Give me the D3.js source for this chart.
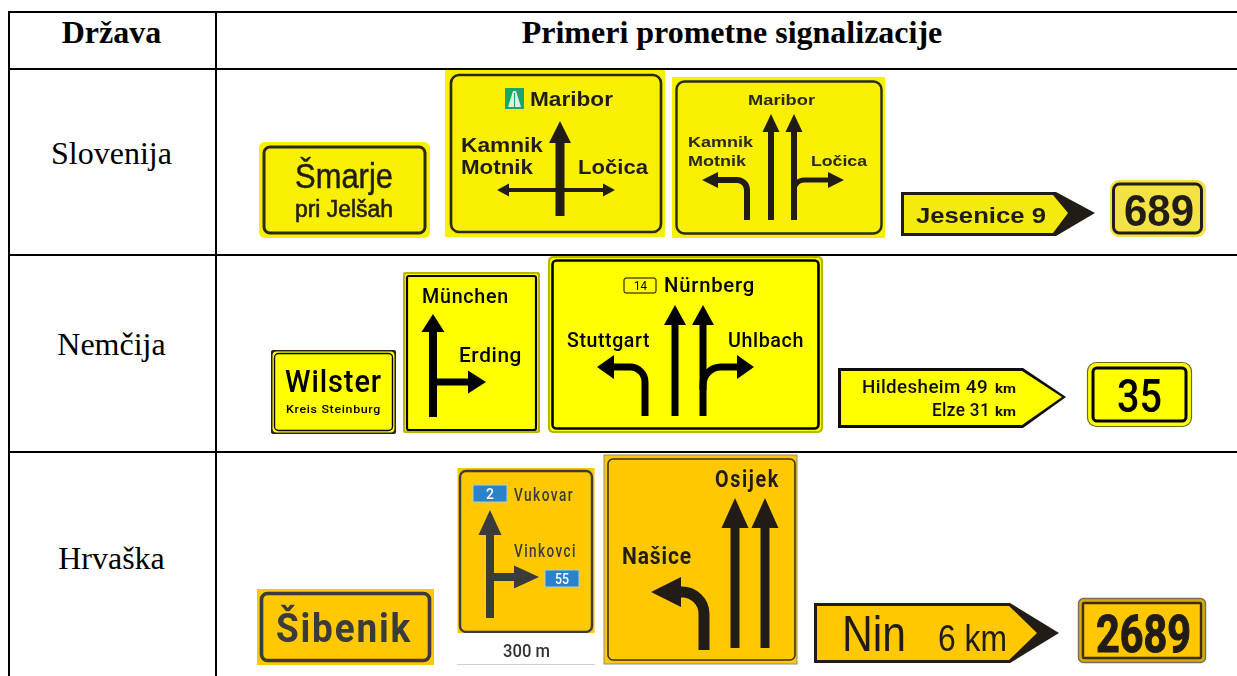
<!DOCTYPE html>
<html>
<head>
<meta charset="utf-8">
<script src="https://cdn.jsdelivr.net/npm/d3@7/dist/d3.min.js"></script>
<style>
  html, body { margin: 0; padding: 0; background: #fff; overflow: hidden; }
  svg { display: block; }
</style>
</head>
<body>
<div id="chart"></div>
<script>
  'use strict';

  // Table content
  var headers = [ 'Država', 'Primeri prometne signalizacije' ],
      rowNames = [ 'Slovenija', 'Nemčija', 'Hrvaška' ];

  // Sign texts, per row
  var slTexts = [ 'Šmarje', 'pri Jelšah', 'Maribor', 'Kamnik', 'Motnik', 'Ločica', 'Jesenice 9', '689' ],
      deTexts = [ 'Wilster', 'Kreis Steinburg', 'München', 'Erding', '14', 'Nürnberg', 'Stuttgart', 'Uhlbach', 'Hildesheim 49', 'km', 'Elze 31', '35' ],
      hrTexts = [ 'Šibenik', '2', 'Vukovar', 'Vinkovci', '55', '300 m', 'Osijek', 'Našice', 'Nin', '6 km', '2689' ];

  var width = 1237,
      height = 676,
      serif = '"Liberation Serif", serif',
      sans = '"Liberation Sans", sans-serif',
      din = 'Roboto, sans-serif',
      slYellow = '#f8f000',
      deYellow = '#ffff00',
      hrYellow = '#ffc800',
      ink = '#231f14',
      slate = '#3a3a3a';

  var rowY = d3.scaleOrdinal( rowNames, [ 154, 345, 559 ] );

  var svg = d3.select( '#chart' )
    .append( 'svg' )
    .attr( 'width', width )
    .attr( 'height', height );

  var defs = svg.append( 'defs' );

  defs.append( 'filter' )
    .attr( 'id', 'soft' )
    .append( 'feGaussianBlur' )
    .attr( 'stdDeviation', 0.5 );

  // Grid of the table
  var grid = svg.append( 'g' )
    .attr( 'stroke', '#000' )
    .attr( 'stroke-width', 2 );

  [ 12, 69, 255, 452 ].forEach(function( y ) {
    grid.append( 'line' )
      .attr( 'x1', 8 ).attr( 'x2', width )
      .attr( 'y1', y ).attr( 'y2', y );
  });

  [ 9, 216 ].forEach(function( x ) {
    grid.append( 'line' )
      .attr( 'x1', x ).attr( 'x2', x )
      .attr( 'y1', 11 ).attr( 'y2', height );
  });

  svg.selectAll( '.head' )
    .data( headers )
    .enter().append( 'text' )
    .attr( 'class', 'head' )
    .attr( 'x', function( d, i ) { return i ? 732 : 111.5; })
    .attr( 'y', 43 )
    .attr( 'text-anchor', 'middle' )
    .attr( 'font-family', serif )
    .attr( 'font-weight', 700 )
    .attr( 'font-size', 32 )
    .attr( 'fill', '#000' )
    .text(function( d ) { return d; });

  svg.selectAll( '.row' )
    .data( rowNames )
    .enter().append( 'text' )
    .attr( 'class', 'row' )
    .attr( 'x', 111.5 )
    .attr( 'y', function( d ) { return rowY( d ) + 10; })
    .attr( 'text-anchor', 'middle' )
    .attr( 'font-family', serif )
    .attr( 'font-size', 32 )
    .attr( 'fill', '#000' )
    .text(function( d ) { return d; });

  var signs = svg.append( 'g' )
    .attr( 'filter', 'url(#soft)' );

  // Helpers
  function box( x, y, w, h, fill, r, stroke, sw ) {
    return signs.append( 'rect' )
      .attr( 'x', x ).attr( 'y', y )
      .attr( 'width', w ).attr( 'height', h )
      .attr( 'rx', r ).attr( 'ry', r )
      .attr( 'fill', fill )
      .attr( 'stroke', stroke || 'none' )
      .attr( 'stroke-width', sw || 0 );
  }

  function label( text, x1, x2, y, font, size, weight, color, tracking ) {
    return signs.append( 'text' )
      .attr( 'x', x1 )
      .attr( 'y', y )
      .attr( 'textLength', x2 - x1 )
      .attr( 'lengthAdjust', 'spacingAndGlyphs' )
      .attr( 'letter-spacing', tracking || 0 )
      .attr( 'font-family', font )
      .attr( 'font-size', size )
      .attr( 'font-weight', weight )
      .attr( 'fill', color )
      .text( text );
  }

  var polyLine = d3.line().curve( d3.curveLinearClosed );

  function shape( points, fill ) {
    return signs.append( 'path' )
      .attr( 'd', polyLine( points ) )
      .attr( 'fill', fill );
  }

  // pts: shaft points, last one is the tip of the arrow. r rounds the corner
  function arrow( pts, sw, headLen, headW, color, r ) {
    var n = pts.length,
        tip = pts[ n - 1 ],
        prev = pts[ n - 2 ],
        len = Math.hypot( tip[0] - prev[0], tip[1] - prev[1] ),
        ux = ( tip[0] - prev[0] ) / len,
        uy = ( tip[1] - prev[1] ) / len,
        base = [ tip[0] - ux * headLen, tip[1] - uy * headLen ],
        p = d3.path();

    p.moveTo( pts[0][0], pts[0][1] );
    if ( n === 3 ) {
      p.arcTo( pts[1][0], pts[1][1], base[0], base[1], r || 0 );
    }
    p.lineTo( base[0], base[1] );

    signs.append( 'path' )
      .attr( 'd', p.toString() )
      .attr( 'fill', 'none' )
      .attr( 'stroke', color )
      .attr( 'stroke-width', sw );

    shape([
      tip,
      [ base[0] - uy * headW / 2, base[1] + ux * headW / 2 ],
      [ base[0] + uy * headW / 2, base[1] - ux * headW / 2 ]
    ], color );
  }

  // Slovenija
  box( 259, 142, 171, 96, slYellow, 6 );
  box( 264, 147, 161, 86, 'none', 6, '#2b2a14', 3 );
  label( slTexts[0], 295, 393, 188, sans, 35, 400, ink ).attr( 'stroke', ink ).attr( 'stroke-width', 0.5 );
  label( slTexts[1], 295, 393, 217, sans, 23, 400, ink ).attr( 'stroke', ink ).attr( 'stroke-width', 0.6 );

  box( 445, 70, 220, 167, slYellow, 0 );
  box( 451, 75, 210, 157, 'none', 8, '#2b2a14', 2.6 );
  box( 505, 88, 19, 21, '#1fa56b', 0 );
  shape( [ [ 513, 91 ], [ 516, 91 ], [ 521, 107 ], [ 508, 107 ] ], '#d8efe2' );
  shape( [ [ 514, 93 ], [ 515, 93 ], [ 515, 107 ], [ 514, 107 ] ], '#1fa56b' );
  label( slTexts[2], 530, 613, 105.5, sans, 21, 700, ink );
  arrow( [ [ 560, 216 ], [ 560, 121 ] ], 9, 22, 22, ink );
  arrow( [ [ 556, 190 ], [ 497, 190 ] ], 4, 12, 13, ink );
  arrow( [ [ 564, 190 ], [ 615, 190 ] ], 4, 12, 13, ink );
  label( slTexts[3], 461, 543, 151.5, sans, 21, 700, ink );
  label( slTexts[4], 461, 533, 174, sans, 21, 700, ink );
  label( slTexts[5], 578, 648, 174, sans, 21, 700, ink );

  box( 672, 77, 213, 161, slYellow, 0 );
  box( 676.5, 81.5, 205, 152, 'none', 8, '#2b2a14', 2.4 );
  label( slTexts[2], 748, 815, 105, sans, 15, 700, '#2b2a14' );
  label( slTexts[3], 688, 753, 147, sans, 15, 700, '#2b2a14' );
  label( slTexts[4], 688, 746, 166, sans, 15, 700, '#2b2a14' );
  label( slTexts[5], 811, 867, 166, sans, 15, 700, '#2b2a14' );
  arrow( [ [ 771, 220 ], [ 771, 114 ] ], 6, 18, 17, ink );
  arrow( [ [ 794, 220 ], [ 794, 114 ] ], 6, 18, 17, ink );
  arrow( [ [ 747, 220 ], [ 747, 180 ], [ 702, 180 ] ], 6, 16, 16, ink, 10 );
  arrow( [ [ 794, 204 ], [ 794, 180 ], [ 844, 180 ] ], 5, 16, 16, ink, 10 );

  shape( [ [ 901, 192 ], [ 1056, 192 ], [ 1095, 213 ], [ 1056, 236 ], [ 901, 236 ] ], ink );
  shape( [ [ 904, 195 ], [ 1053, 195 ], [ 1068, 213 ], [ 1053, 233 ], [ 904, 233 ] ], '#f4ea10' );
  label( slTexts[6], 916, 1046, 223, sans, 22, 700, ink );

  box( 1110, 180, 96, 57, '#f2e244', 9 );
  box( 1113.5, 184, 88, 49, 'none', 6, ink, 3 );
  label( slTexts[7], 1124, 1194, 226, sans, 45, 700, ink );

  // Nemčija
  box( 271, 350, 125, 84, '#222', 2 );
  box( 272.5, 351.5, 122, 81, deYellow, 4 );
  box( 274.5, 353.5, 118, 77, 'none', 4, '#000', 1.4 );
  label( deTexts[0], 285, 382, 392, din, 32, 500, '#000', 1 );
  label( deTexts[1], 286, 381, 413, din, 11, 500, '#000', 0.6 );

  box( 403, 272, 137, 161, '#b8b400', 2 );
  box( 405, 274, 133, 157, deYellow, 2 );
  box( 407, 276, 129, 154, 'none', 2, '#000', 2.2 );
  label( deTexts[2], 422, 509, 303, din, 21, 500, '#000', 0.8 );
  label( deTexts[3], 459, 522, 362, din, 21, 500, '#000', 0.6 );
  arrow( [ [ 433, 417 ], [ 433, 314 ] ], 8, 18, 23, '#000' );
  arrow( [ [ 433, 382 ], [ 486, 382 ] ], 7, 18, 23, '#000' );

  box( 548, 256, 275, 177, '#b8b400', 5 );
  box( 550, 258, 271, 173, deYellow, 4 );
  box( 552.5, 260.5, 266, 168, 'none', 4, '#000', 2.6 );
  box( 624, 278, 32, 15, 'none', 2, '#000', 1 );
  label( deTexts[4], 634, 647, 290, din, 12, 400, '#000' );
  label( deTexts[5], 664, 755, 292, din, 21, 500, '#000', 0.8 );
  label( deTexts[6], 567, 650, 347, din, 20, 500, '#000', 0.6 );
  label( deTexts[7], 728, 804, 347, din, 20, 500, '#000', 0.6 );
  arrow( [ [ 675, 416 ], [ 675, 305 ] ], 7, 20, 22, '#000' );
  arrow( [ [ 703, 416 ], [ 703, 305 ] ], 7, 20, 22, '#000' );
  arrow( [ [ 645, 416 ], [ 645, 367 ], [ 597, 367 ] ], 7, 17, 24, '#000', 15 );
  arrow( [ [ 703, 390 ], [ 703, 367 ], [ 754, 367 ] ], 7, 17, 24, '#000', 18 );

  shape( [ [ 838, 368 ], [ 1023, 368 ], [ 1066, 397 ], [ 1023, 428 ], [ 838, 428 ] ], '#111' );
  shape( [ [ 841, 371 ], [ 1022, 371 ], [ 1062, 397 ], [ 1022, 425 ], [ 841, 425 ] ], deYellow );
  label( deTexts[8], 862, 988, 393, din, 19, 500, '#111', 0.4 );
  label( deTexts[9], 995, 1016, 393, din, 12, 700, '#111' );
  label( deTexts[10], 932, 990, 416, din, 19, 500, '#111', 0.4 );
  label( deTexts[9], 995, 1016, 416, din, 12, 700, '#111' );

  box( 1087.5, 362.5, 104, 64, deYellow, 9, '#6b6a20', 1.2 );
  box( 1093, 368, 93, 53, 'none', 4, '#000', 3 );
  label( deTexts[11], 1117, 1162, 412, din, 46, 500, '#000' );

  // Hrvaška
  box( 257, 589, 177, 76, hrYellow, 0 );
  box( 261.5, 593.5, 168, 67, 'none', 6, slate, 3.6 );
  label( hrTexts[0], 276, 412, 642, din, 41, 700, slate, 2 );

  box( 457.5, 468, 137, 165, hrYellow, 0 );
  box( 460, 471, 132, 161, 'none', 6, slate, 2.4 );
  box( 473, 485, 34, 17, '#2b82c9', 1, '#a8d0e8', 1 );
  label( hrTexts[1], 486, 494, 499, din, 14, 500, '#fff' );
  label( hrTexts[2], 514, 574, 500.5, din, 19, 500, slate, 2 );
  label( hrTexts[3], 514, 577, 557, din, 19, 500, slate, 2 );
  box( 545, 570, 34, 17, '#2b82c9', 1, '#a8d0e8', 1 );
  label( hrTexts[4], 555, 569, 584, din, 14, 500, '#fff' );
  arrow( [ [ 490, 618 ], [ 490, 510 ] ], 8, 25, 23, slate );
  arrow( [ [ 490, 577 ], [ 539, 577 ] ], 8, 25, 23, slate );
  box( 457.5, 633, 137, 31.5, '#fff', 0 );
  signs.append( 'line' )
    .attr( 'x1', 457 ).attr( 'x2', 595 )
    .attr( 'y1', 664.5 ).attr( 'y2', 664.5 )
    .attr( 'stroke', '#cfcfcf' );
  label( hrTexts[5], 503, 550, 657, din, 18, 500, '#333' );

  box( 604, 455, 193, 209, hrYellow, 0, '#8d8d80', 1 );
  box( 608, 459, 187, 201, 'none', 5, '#3f3210', 1.6 );
  label( hrTexts[6], 715, 780, 487, din, 24, 700, ink, 2 );
  label( hrTexts[7], 622, 692, 564, din, 24, 700, ink, 1 );
  arrow( [ [ 735, 648 ], [ 735, 498 ] ], 9, 30, 27, ink );
  arrow( [ [ 765, 648 ], [ 765, 498 ] ], 9, 30, 27, ink );
  arrow( [ [ 704, 650 ], [ 704, 592 ], [ 651, 592 ] ], 11, 30, 30, ink, 22 );

  shape( [ [ 814, 603 ], [ 1010, 603 ], [ 1059, 633 ], [ 1010, 663 ], [ 814, 663 ] ], ink );
  shape( [ [ 817, 606 ], [ 1009, 606 ], [ 1037, 633 ], [ 1009, 660 ], [ 817, 660 ] ], hrYellow );
  label( hrTexts[8], 842, 906, 651, sans, 50, 400, ink );
  label( hrTexts[9], 938, 1007, 651, sans, 36, 400, ink );

  box( 1078.5, 598.5, 127, 64, '#d9a80f', 5, '#70705f', 1.4 );
  box( 1083, 603, 118, 55, hrYellow, 1, '#3b2f10', 2.4 );
  label( hrTexts[10], 1096, 1191, 651.5, din, 52, 700, ink ).attr( 'stroke', ink ).attr( 'stroke-width', 1.2 );
</script>
</body>
</html>
